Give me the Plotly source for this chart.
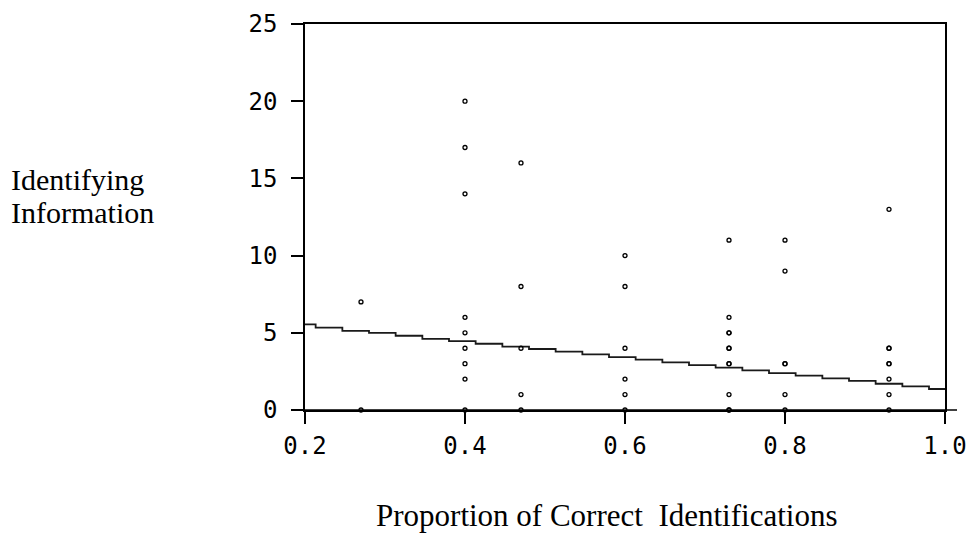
import plotly.graph_objects as go

# Scatter data: proportion of correct identifications vs identifying information
prop_x = [0.27, 0.27,
          0.40, 0.40, 0.40, 0.40, 0.40, 0.40, 0.40, 0.40, 0.40,
          0.47, 0.47, 0.47, 0.47, 0.47,
          0.60, 0.60, 0.60, 0.60, 0.60, 0.60,
          0.73, 0.73, 0.73, 0.73, 0.73, 0.73, 0.73, 0.73, 0.73, 0.73, 0.73,
          0.80, 0.80, 0.80, 0.80, 0.80, 0.80,
          0.93, 0.93, 0.93, 0.93, 0.93, 0.93, 0.93, 0.93]
info_y = [7, 0,
          20, 17, 14, 6, 5, 4, 3, 2, 0,
          16, 8, 4, 1, 0,
          10, 8, 4, 2, 1, 0,
          11, 6, 5, 5, 4, 4, 3, 3, 1, 0, 0,
          11, 9, 3, 3, 1, 0,
          13, 4, 4, 3, 3, 2, 1, 0]

# Step line (fitted trend drawn as a staircase): step edges and levels
step_x = [0.2, 0.2133, 0.2467, 0.28, 0.3133, 0.3467, 0.38, 0.4133, 0.4467,
          0.48, 0.5133, 0.5467, 0.58, 0.6133, 0.6467, 0.68, 0.7133, 0.7467,
          0.78, 0.8133, 0.8467, 0.88, 0.9133, 0.9467, 0.98, 1.0]
step_y = [5.54, 5.33, 5.13, 5.00, 4.81, 4.61, 4.46, 4.29, 4.10, 3.95, 3.78,
          3.60, 3.43, 3.26, 3.08, 2.91, 2.74, 2.57, 2.39, 2.22, 2.05, 1.88,
          1.70, 1.53, 1.36, 1.36]

x_ticks = [0.2, 0.4, 0.6, 0.8, 1.0]
x_tick_labels = ["0.2", "0.4", "0.6", "0.8", "1.0"]
y_ticks = [0, 5, 10, 15, 20, 25]
y_tick_labels = ["0", "5", "10", "15", "20", "25"]

W, H = 968, 534
L, R, T, B = 305, 945, 23.5, 410
pw, ph = R - L, B - T

def px(xp):
    return (xp - L) / pw

def py(yp):
    return (B - yp) / ph

fig = go.Figure()
fig.add_trace(go.Scatter(
    x=step_x, y=step_y, mode="lines", line=dict(color="#1a1a1a", width=1.8, shape="hv"),
    hoverinfo="skip", showlegend=False))
fig.add_trace(go.Scatter(
    x=prop_x, y=info_y, mode="markers", cliponaxis=False,
    marker=dict(symbol="circle-open", size=4, color="black", line=dict(width=1.3, color="black")),
    showlegend=False))

tickfont = dict(family="DejaVu Sans Mono", size=24, color="black")
serif = dict(family="Liberation Serif", size=30, color="black")
serif_x = dict(family="Liberation Serif", size=31, color="black")

fig.update_layout(
    width=W, height=H,
    margin=dict(l=L, r=W - R, t=T, b=H - B, pad=0, autoexpand=False),
    paper_bgcolor="white", plot_bgcolor="white",
    xaxis=dict(range=[0.2, 1.0], tickvals=x_ticks, ticktext=x_tick_labels,
               automargin=False,
               showgrid=False, zeroline=False, showline=True, mirror=True,
               linecolor="black", linewidth=1.5, ticks="outside", ticklen=12,
               tickwidth=1.5, tickcolor="black", tickfont=tickfont, ticklabelstandoff=1),
    yaxis=dict(range=[0, 25], tickvals=y_ticks, ticktext=y_tick_labels,
               automargin=False,
               showgrid=False, zeroline=False, showline=True, mirror=True,
               linecolor="black", linewidth=1.5, ticks="outside", ticklen=12,
               tickwidth=1.5, tickcolor="black", tickfont=tickfont, ticklabelstandoff=9),
    shapes=[dict(type="line", xref="paper", yref="paper", x0=px(293), x1=px(957),
                 y0=0, y1=0, line=dict(color="black", width=1.5))],
    annotations=[
        dict(text="Identifying", xref="paper", yref="paper", x=px(9), y=py(179),
             xanchor="left", yanchor="middle", showarrow=False, font=serif),
        dict(text="Information", xref="paper", yref="paper", x=px(9), y=py(212.5),
             xanchor="left", yanchor="middle", showarrow=False, font=serif),
        dict(text="Proportion of Correct\u00a0 Identifications", xref="paper", yref="paper",
             x=px(606), y=py(516), xanchor="center", yanchor="middle", showarrow=False,
             font=serif_x),
    ],
)

fig.write_html("out.html", config={"displayModeBar": False},
               post_script="document.body.style.margin='0';document.body.style.overflow='hidden';")
